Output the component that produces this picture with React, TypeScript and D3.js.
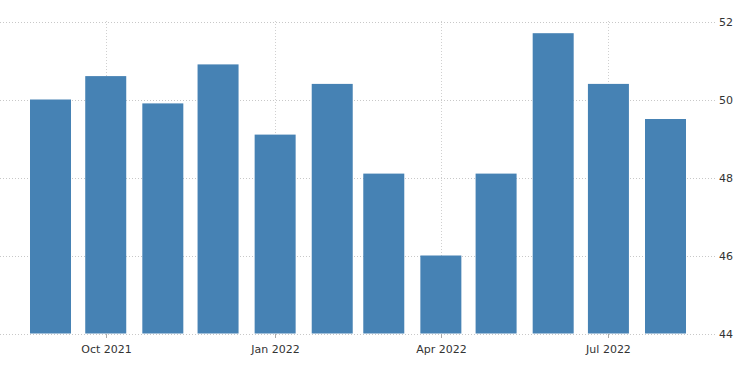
import React from "react";
import * as d3 from "d3";

const months = ["2021-09-01","2021-10-01","2021-11-01","2021-12-01","2022-01-01","2022-02-01","2022-03-01","2022-04-01","2022-05-01","2022-06-01","2022-07-01","2022-08-01"];
const values = [50.0, 50.6, 49.9, 50.9, 49.1, 50.4, 48.1, 46.0, 48.1, 51.7, 50.4, 49.5];
const yTicks = [44, 46, 48, 50, 52];
const xTickDates = ["2021-10-01", "2022-01-01", "2022-04-01", "2022-07-01"];

const W = 750, H = 373;
const parse = d3.utcParse("%Y-%m-%d");
const fmt = d3.utcFormat("%b %Y");

export default function App() {
  const x = d3.scaleUtc()
    .domain([parse(months[0])!, parse(months[months.length - 1])!])
    .range([50.5, 665.5]);
  const y = d3.scaleLinear().domain([44, 52]).range([333.5, 21.5]);
  const bw = 41;
  const font = "'DejaVu Sans', Tahoma, sans-serif";
  return (
    <svg width={W} height={H} style={{ position: "absolute", left: 0, top: 0, background: "#fff" }}>
      {yTicks.map((t) => (
        <line key={"h" + t} x1={0} x2={716} y1={Math.round(y(t)) + 0.5} y2={Math.round(y(t)) + 0.5}
          stroke="#c8c8c8" strokeDasharray="1,2" />
      ))}
      {xTickDates.map((d) => {
        const xx = Math.round(x(parse(d)!)) + 0.5;
        return (
          <g key={d}>
            <line x1={xx} x2={xx} y1={21} y2={333} stroke="#d0d0d0" strokeDasharray="1,2" />
            <line x1={xx} x2={xx} y1={334} y2={338} stroke="#aaa" />
            <text x={xx} y={353} textAnchor="middle" fontFamily={font} fontSize={11} fill="#333">
              {fmt(parse(d)!)}
            </text>
          </g>
        );
      })}
      {months.map((m, i) => {
        const cx = x(parse(m)!);
        return (
          <rect key={m} x={cx - bw / 2} y={y(values[i])} width={bw} height={y(44) - y(values[i])} fill="#4682B4" />
        );
      })}
      {yTicks.map((t) => (
        <text key={"l" + t} x={719} y={y(t) + 4} fontFamily={font} fontSize={11} fill="#333">{t}</text>
      ))}
    </svg>
  );
}
